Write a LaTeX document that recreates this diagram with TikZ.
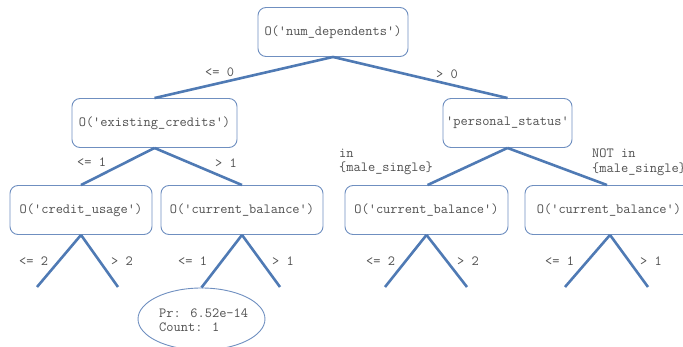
\documentclass[tikz,border=0pt]{standalone}
\usetikzlibrary{shapes.geometric}
\definecolor{boxc}{HTML}{6F8FC0}
\definecolor{edgec}{HTML}{4F7AB4}
\definecolor{txtc}{HTML}{505050}
\begin{document}
\begin{tikzpicture}[x=1pt,y=-1pt,
  every node/.style={font=\ttfamily\fontsize{14}{14.5}\selectfont, text=txtc, inner sep=0pt},
  box/.style={draw=boxc, line width=0.9pt, rounded corners=8pt, minimum height=49pt},
  edge/.style={draw=edgec, line width=2.6pt},
  lab/.style={anchor=west}]
\useasboundingbox (0,0) rectangle (683,347);
\begin{scope}
\clip (0,0) rectangle (683,347);
\node[box, minimum width=150pt] (root) at (333,32) {O('num\_dependents')};
\node[box, minimum width=165pt] (ec) at (154.5,123) {O('existing\_credits')};
\node[box, minimum width=129pt] (ps) at (507.5,123) {'personal\_status'};
\node[box, minimum width=142pt] (cu) at (81,210) {O('credit\_usage')};
\node[box, minimum width=162pt] (cb1) at (242,210) {O('current\_balance')};
\node[box, minimum width=163pt] (cb2) at (426.5,210) {O('current\_balance')};
\node[box, minimum width=168pt] (cb3) at (609,210) {O('current\_balance')};
\node[draw=boxc, line width=0.9pt, ellipse, minimum width=127pt, minimum height=62pt] (leaf) at (201.5,319) {};
\node[anchor=west, align=left] (leaftxt) at (159,320) {Pr: 6.52e-14\\Count: 1};

\coordinate (cuL) at (37,287);
\coordinate (cuR) at (118,287);
\coordinate (cb1R) at (280,287);
\coordinate (cb2L) at (385,287);
\coordinate (cb2R) at (467,287);
\coordinate (cb3L) at (565,287);
\coordinate (cb3R) at (648,287);

\draw[edge] (root.south) -- (ec.north);
\draw[edge] (root.south) -- (ps.north);
\draw[edge] (ec.south) -- (cu.north);
\draw[edge] (ec.south) -- (cb1.north);
\draw[edge] (ps.south) -- ([xshift=1pt]cb2.north);
\draw[edge] (ps.south) -- ([xshift=-2pt]cb3.north);
\draw[edge] (cu.south) -- (cuL);
\draw[edge] (cu.south) -- (cuR);
\draw[edge] (cb1.south) -- (leaf.north);
\draw[edge] (cb1.south) -- (cb1R);
\draw[edge] (cb2.south) -- (cb2L);
\draw[edge] (cb2.south) -- (cb2R);
\draw[edge] ([xshift=1pt]cb3.south) -- (cb3L);
\draw[edge] ([xshift=1pt]cb3.south) -- (cb3R);

\node[lab] (l1) at (205,72) {<= 0};
\node[lab] (l2) at (436,74) {> 0};
\node[lab] (l3) at (77,162) {<= 1};
\node[lab] (l4) at (215,163) {> 1};
\node[lab, align=left] (l5) at (339,162) {in\\\{male\_single\}};
\node[lab, align=left] (l6) at (592,162) {NOT in\\\{male\_single\}};
\node[lab] (l7) at (19,261) {<= 2};
\node[lab] (l8) at (111,261) {> 2};
\node[lab] (l9) at (178,261) {<= 1};
\node[lab] (l10) at (272,261) {> 1};
\node[lab] (l11) at (366,261) {<= 2};
\node[lab] (l12) at (457,261) {> 2};
\node[lab] (l13) at (545,261) {<= 1};
\node[lab] (l14) at (640,261) {> 1};
\end{scope}
\end{tikzpicture}
\end{document}
